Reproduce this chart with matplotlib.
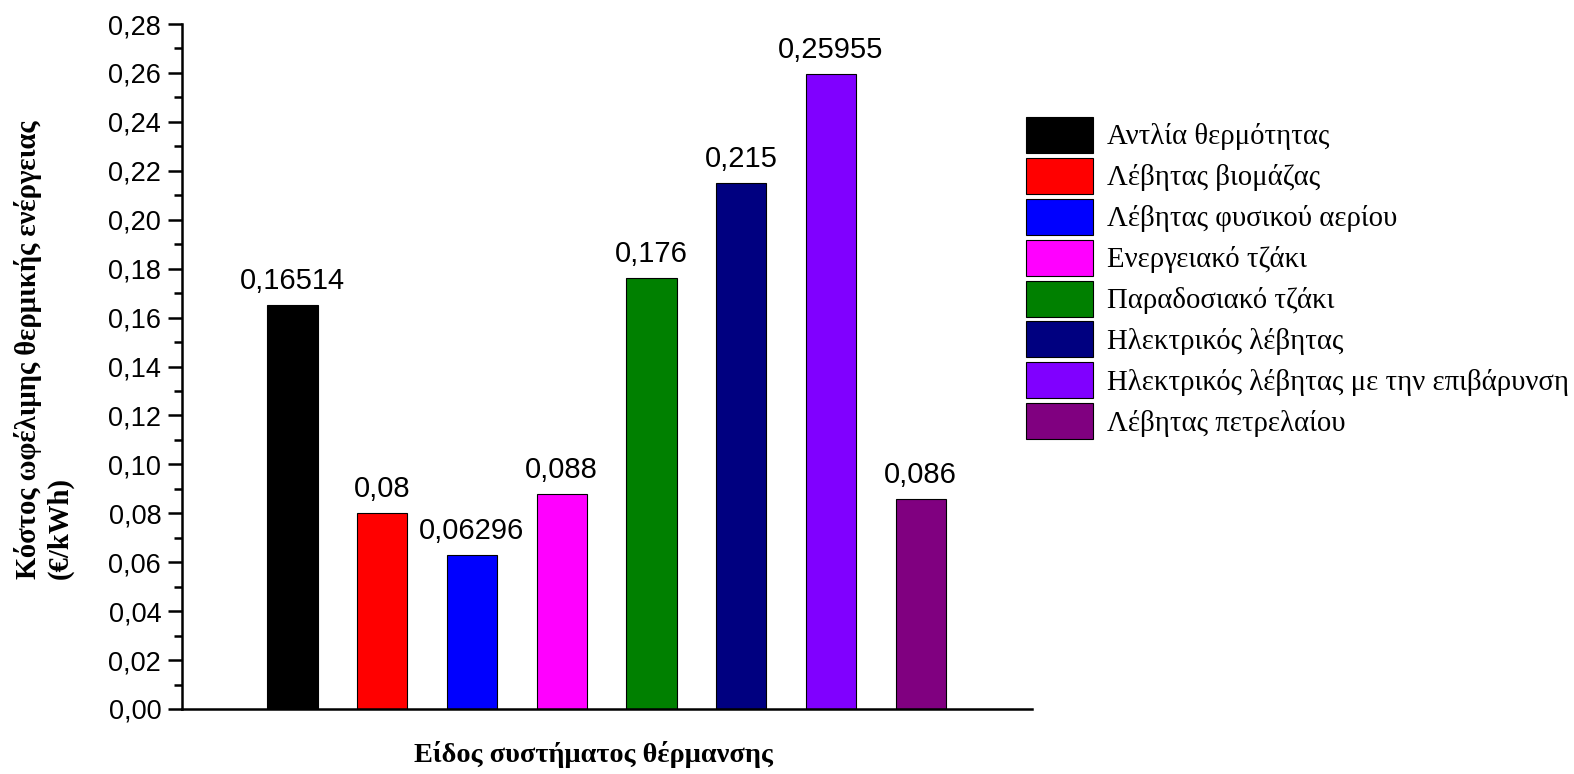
import matplotlib
matplotlib.use("Agg")
import matplotlib.pyplot as plt
from matplotlib.ticker import MultipleLocator, FuncFormatter

# data
systems = [
    "Αντλία θερμότητας",
    "Λέβητας βιομάζας",
    "Λέβητας φυσικού αερίου",
    "Ενεργειακό τζάκι",
    "Παραδοσιακό τζάκι",
    "Ηλεκτρικός λέβητας",
    "Ηλεκτρικός λέβητας με την επιβάρυνση",
    "Λέβητας πετρελαίου",
]
costs = [0.16514, 0.08, 0.06296, 0.088, 0.176, 0.215, 0.25955, 0.086]
colors = ["#000000", "#ff0000", "#0000ff", "#ff00ff",
          "#008000", "#000080", "#8000ff", "#800080"]

SANS = "Liberation Sans"
SERIF = "Liberation Serif"

W, H = 1574, 774
fig = plt.figure(figsize=(W / 100, H / 100), dpi=100)
# axes box in pixels: x 182..1032, y 24..709
ax = fig.add_axes([182 / W, 1 - 709 / H, (1032 - 182) / W, (709 - 24) / H])

handles = []
for i, (name, val, c) in enumerate(zip(systems, costs, colors), start=1):
    b = ax.bar(i, val, width=0.56, color=c, edgecolor="black",
               linewidth=0.8, label=name, zorder=2)
    handles.append(b)
    ax.annotate(str(val).replace(".", ","), (i, val), xytext=(0, 11.5),
                textcoords="offset points", ha="center", va="baseline",
                fontsize=21, family=SANS, color="black")

ax.set_xlim(-0.23, 9.24)
ax.set_ylim(0, 0.28)
ax.yaxis.set_major_locator(MultipleLocator(0.02))
ax.yaxis.set_minor_locator(MultipleLocator(0.01))
ax.yaxis.set_major_formatter(
    FuncFormatter(lambda v, _: f"{v:.2f}".replace(".", ",")))
ax.set_xticks([])

for s in ("top", "right"):
    ax.spines[s].set_visible(False)
for s in ("left", "bottom"):
    ax.spines[s].set_linewidth(1.8)
ax.tick_params(axis="y", which="major", direction="out", length=10,
               width=1.8, pad=5, labelsize=19.5)
ax.tick_params(axis="y", which="minor", direction="out", length=6, width=1.8)
for lab in ax.get_yticklabels():
    lab.set_family(SANS)

fig.text(44 / W, 1 - 350 / H,
         "Κόστος ωφέλιμης θερμικής ενέργειας\n(€/kWh)",
         rotation=90, ha="center", va="center", multialignment="left",
         fontsize=20.6, fontweight="bold", family=SERIF)
fig.text(593 / W, 1 - 755 / H, "Είδος συστήματος θέρμανσης",
         ha="center", va="center", fontsize=20.4, fontweight="bold",
         family=SERIF)

# legend boxes ~67x36 px, rows ~41 px apart
leg = fig.legend(handles=handles, loc="upper left",
                 bbox_to_anchor=(1026 / W, 1 - 117 / H), frameon=False,
                 borderpad=0, borderaxespad=0, handlelength=2.33,
                 handleheight=1.55, handletextpad=0.49, labelspacing=0.17,
                 prop={"family": SERIF, "size": 20.7})

fig.savefig("out.png", dpi=100, facecolor="white")
